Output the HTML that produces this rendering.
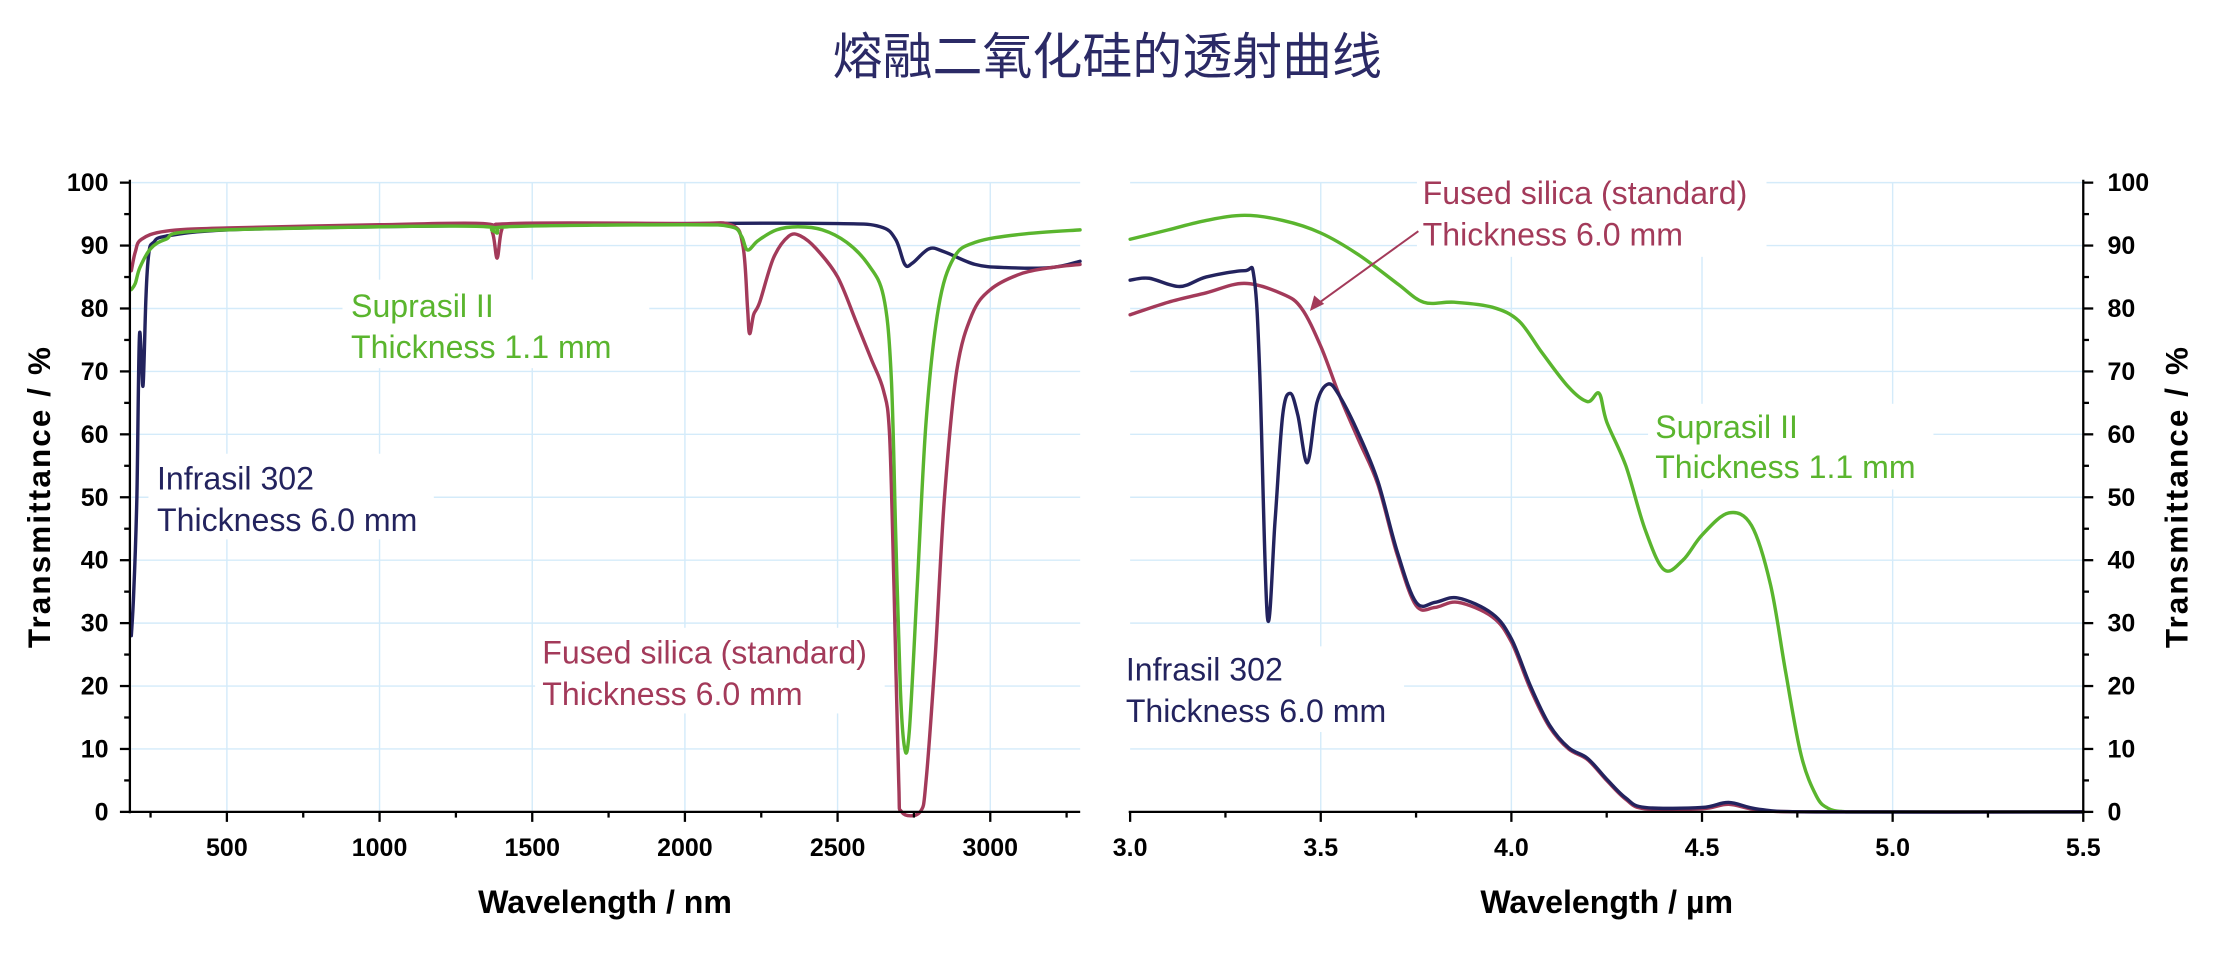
<!DOCTYPE html>
<html><head><meta charset="utf-8"><style>
html,body{margin:0;padding:0;background:#fff;}
svg{display:block;}
text{font-family:"Liberation Sans","Noto Sans CJK SC",sans-serif;}
</style></head><body>
<svg id="s" width="2226" height="954" viewBox="0 0 1560 668.6" xmlns="http://www.w3.org/2000/svg">
<rect width="1560" height="669" fill="#fff"/>
<g id="grid" stroke="#d4ebfa" stroke-width="1"></g>
<g id="curves" fill="none" stroke-width="2.4" stroke-linejoin="round" stroke-linecap="round"></g>
<g id="axes" stroke="#000" stroke-width="1.6"></g>
<text x="776" y="52" font-size="35" fill="#2b2a66" text-anchor="middle">熔融二氧化硅的透射曲线</text>
<g font-size="22.5">
<rect x="240" y="196" width="215" height="62" fill="#fff"/>
<text x="246" y="222" fill="#5ab52e">Suprasil II</text>
<text x="246" y="251" fill="#5ab52e">Thickness 1.1 mm</text>
<rect x="104" y="318" width="200" height="60" fill="#fff"/>
<text x="110" y="343" fill="#23235e">Infrasil 302</text>
<text x="110" y="372" fill="#23235e">Thickness 6.0 mm</text>
<rect x="375" y="440" width="245" height="60" fill="#fff"/>
<text x="380" y="465" fill="#a33a5a">Fused silica (standard)</text>
<text x="380" y="494" fill="#a33a5a">Thickness 6.0 mm</text>
<rect x="993" y="120" width="245" height="60" fill="#fff"/>
<text x="997" y="143" fill="#a33a5a">Fused silica (standard)</text>
<text x="997" y="172" fill="#a33a5a">Thickness 6.0 mm</text>
<rect x="1155" y="283" width="200" height="60" fill="#fff"/>
<text x="1160" y="307" fill="#5ab52e">Suprasil II</text>
<text x="1160" y="335" fill="#5ab52e">Thickness 1.1 mm</text>
<rect x="784" y="453" width="200" height="60" fill="#fff"/>
<text x="789" y="477" fill="#23235e">Infrasil 302</text>
<text x="789" y="506" fill="#23235e">Thickness 6.0 mm</text>
</g>
<line x1="994" y1="162" x2="922" y2="214" stroke="#a33a5a" stroke-width="1.4"/>
<path d="M918,218 L921,207 L928,213 Z" fill="#a33a5a"/>
<g font-size="17.5" font-weight="bold" fill="#000" id="ticklabels"></g>
<text x="424" y="640" font-size="22.5" font-weight="bold" text-anchor="middle">Wavelength / nm</text>
<text x="1126" y="640" font-size="22.5" font-weight="bold" text-anchor="middle">Wavelength / µm</text>
<text transform="translate(35,348) rotate(-90)" font-size="22" font-weight="bold" letter-spacing="1.5" text-anchor="middle">Transmittance / %</text>
<text transform="translate(1533,348) rotate(-90)" font-size="22" font-weight="bold" letter-spacing="1.5" text-anchor="middle">Transmittance / %</text>
</svg>
<script>
var NS="http://www.w3.org/2000/svg";
function el(p,t,a,txt){var e=document.createElementNS(NS,t);for(var k in a)e.setAttribute(k,a[k]);if(txt!==undefined)e.textContent=txt;document.getElementById(p).appendChild(e);return e;}
function py(T){return 569-T*4.41;}
function pxL(n){return 92+(n-187)*0.214;}
function pxR(u){return 792+(u-3)*267.2;}
for(var T=10;T<=100;T+=10){el("grid","line",{x1:92,x2:757,y1:py(T),y2:py(T)});el("grid","line",{x1:792,x2:1460,y1:py(T),y2:py(T)});}
[500,1000,1500,2000,2500,3000].forEach(function(n){el("grid","line",{x1:pxL(n),x2:pxL(n),y1:128,y2:569});});
[3.5,4,4.5,5].forEach(function(u){el("grid","line",{x1:pxR(u),x2:pxR(u),y1:128,y2:569});});
el("axes","line",{x1:91,x2:757,y1:569,y2:569});
el("axes","line",{x1:91,x2:91,y1:126,y2:570});
el("axes","line",{x1:791,x2:1460,y1:569,y2:569});
el("axes","line",{x1:1460,x2:1460,y1:126,y2:570});
for(var T=0;T<=100;T+=5){var L=T%10==0?7:4;
 el("axes","line",{x1:91-L,x2:91,y1:py(T),y2:py(T)});
 el("axes","line",{x1:1460,x2:1460+L,y1:py(T),y2:py(T)});
 if(T%10==0){el("ticklabels","text",{x:76,y:py(T)+6,"text-anchor":"end"},""+T);el("ticklabels","text",{x:1477,y:py(T)+6},""+T);}}
for(var n=250;n<=3250;n+=250){var L=n%500==0?7:4;el("axes","line",{x1:pxL(n),x2:pxL(n),y1:569,y2:569+L});if(n%500==0)el("ticklabels","text",{x:pxL(n),y:600,"text-anchor":"middle"},""+n);}
for(var u=3;u<=5.501;u+=0.25){var L=(Math.round(u*4)%2==0)?7:4;el("axes","line",{x1:pxR(u),x2:pxR(u),y1:569,y2:569+L});if(L==7)el("ticklabels","text",{x:pxR(u),y:600,"text-anchor":"middle"},u.toFixed(1));}
function curve(pts,fx,col){
 var P=pts.map(function(p){return [fx(p[0]),py(p[1])];});
 var d="M"+P[0][0]+","+P[0][1];
 for(var i=0;i<P.length-1;i++){var p0=P[Math.max(0,i-1)],p1=P[i],p2=P[i+1],p3=P[Math.min(P.length-1,i+2)];
  var c1=[p1[0]+(p2[0]-p0[0])/6,p1[1]+(p2[1]-p0[1])/6],c2=[p2[0]-(p3[0]-p1[0])/6,p2[1]-(p3[1]-p1[1])/6];
  d+=" C"+c1[0].toFixed(1)+","+c1[1].toFixed(1)+" "+c2[0].toFixed(1)+","+c2[1].toFixed(1)+" "+p2[0].toFixed(1)+","+p2[1].toFixed(1);}
 el("curves","path",{d:d,stroke:col});}
var navy="#23235e",red="#a33a5a",green="#5ab52e";
curve([[187,28],[195,35],[205,50],[213,75],[220,72],[226,68],[235,82],[245,89],[260,90.5],[300,91.5],[500,92.5],[1000,93],[2000,93.5],[2500,93.5],[2640,93],[2690,91],[2720,87],[2745,87.2],[2800,89.5],[2850,89],[2950,87],[3050,86.5],[3200,86.5],[3294,87.5]],pxL,navy);
curve([[187,86],[200,89],[220,91],[300,92.3],[500,92.8],[1000,93.3],[1340,93.5],[1370,92],[1385,88],[1400,92.5],[1430,93.5],[2000,93.5],[2150,93.3],[2190,90],[2205,80],[2212,76],[2225,79],[2245,81],[2290,88],[2340,91.5],[2380,91.5],[2430,89.5],[2500,85],[2560,78],[2610,72],[2650,67],[2670,60],[2685,35],[2700,5],[2710,0],[2770,0],[2790,5],[2820,25],[2850,50],[2890,70],[2940,79],[3000,83],[3100,85.5],[3200,86.5],[3294,87]],pxL,red);
curve([[187,83],[200,84],[215,86.5],[250,89.5],[300,91],[400,92.3],[1000,93],[1350,93],[1385,92],[1420,93],[2000,93.3],[2150,93],[2185,91.5],[2205,89.3],[2240,90.8],[2300,92.5],[2370,93],[2450,92.5],[2530,90.5],[2600,87],[2650,82],[2675,70],[2690,45],[2705,20],[2720,10],[2735,13],[2760,35],[2790,62],[2830,80],[2880,88],[2950,90.5],[3100,91.8],[3294,92.5]],pxL,green);
curve([[3,91],[3.1,92.5],[3.2,94],[3.3,94.8],[3.4,94],[3.5,92],[3.6,88.5],[3.7,84],[3.77,81],[3.85,81],[3.95,80.2],[4.02,78],[4.08,73],[4.15,67.5],[4.2,65.2],[4.23,66.5],[4.25,62],[4.3,55],[4.35,45],[4.4,38.5],[4.45,40],[4.5,44],[4.57,47.5],[4.63,45.5],[4.68,36],[4.72,22],[4.76,9],[4.8,2.5],[4.83,0.6],[4.87,0.05],[4.95,0],[5.5,0]],pxR,green);
curve([[3,79],[3.1,81],[3.2,82.5],[3.3,84],[3.4,82.3],[3.45,80],[3.5,74],[3.55,66],[3.6,59],[3.65,52],[3.7,41],[3.75,32.8],[3.8,32.5],[3.86,33.3],[3.95,31],[4.0,27],[4.05,19.5],[4.1,13.5],[4.15,10],[4.2,8.3],[4.25,5],[4.3,2],[4.35,0.5],[4.5,0.5],[4.57,1.2],[4.65,0.3],[4.8,0],[5.5,0]],pxR,red);
curve([[3,84.5],[3.05,84.8],[3.13,83.5],[3.2,85],[3.3,86],[3.325,85],[3.34,70],[3.36,31],[3.38,46],[3.4,63],[3.42,66.5],[3.44,63],[3.465,55.5],[3.49,65],[3.52,68],[3.55,66],[3.6,60],[3.65,52.5],[3.7,41.5],[3.75,33.3],[3.8,33.3],[3.86,34],[3.95,31.5],[4.0,27.5],[4.05,20],[4.1,13.8],[4.15,10.2],[4.2,8.5],[4.25,5.2],[4.3,2.2],[4.35,0.7],[4.5,0.7],[4.57,1.5],[4.65,0.4],[4.8,0],[5.5,0]],pxR,navy);
</script>
</body></html>
